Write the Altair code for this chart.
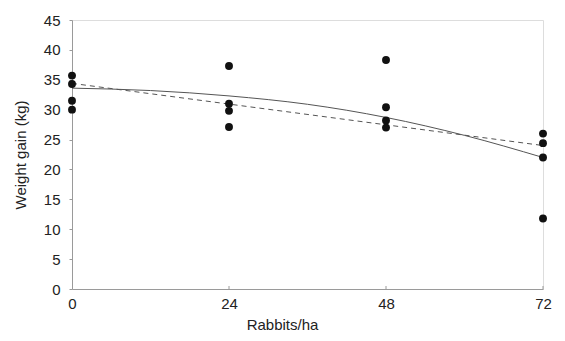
import altair as alt
import pandas as pd

# Observed points
rabbits = [0, 0, 0, 0, 24, 24, 24, 24, 48, 48, 48, 48, 72, 72, 72, 72]
gain = [35.7, 34.3, 31.5, 30.0,
        37.3, 31.0, 29.8, 27.1,
        38.3, 30.4, 28.2, 27.0,
        26.0, 24.4, 22.0, 11.8]

# Solid (curvilinear) fit
curve_x = [0, 12, 24, 36, 48, 60, 72]
curve_y = [33.6, 33.2, 32.3, 30.9, 28.7, 25.7, 22.0]

# Dashed (linear) fit
lin_x = [0, 72]
lin_y = [34.4, 24.0]

x_ticks = [0, 24, 48, 72]
y_ticks = [0, 5, 10, 15, 20, 25, 30, 35, 40, 45]

pts = pd.DataFrame({"x": rabbits, "y": gain})
curve = pd.DataFrame({"x": curve_x, "y": curve_y})
lin = pd.DataFrame({"x": lin_x, "y": lin_y})
ticks = pd.DataFrame({"x": x_ticks[1:]})

FONT = "Liberation Sans"
FS = 15
xscale = alt.Scale(domain=[0, 72], nice=False, zero=False)
yscale = alt.Scale(domain=[0, 45], nice=False)

xaxis = alt.Axis(values=x_ticks, title="Rabbits/ha", grid=False, ticks=False,
                 domainColor="#9a9a9a", labelColor="#222", labelFont=FONT,
                 labelFontSize=FS, labelPadding=7, titleFont=FONT, titleFontSize=FS,
                 titleFontWeight="normal", titleColor="#222", titleX=210, titleY=28,
                 labelFlush=False, labelOverlap=False)
yaxis = alt.Axis(values=y_ticks, title="Weight gain (kg)", grid=False, tickSize=3,
                 tickColor="#9a9a9a", domainColor="#9a9a9a", labelColor="#222",
                 labelFont=FONT, labelFontSize=FS, labelPadding=9, titleFont=FONT,
                 titleFontSize=FS, titleFontWeight="normal", titleColor="#222",
                 titleX=-44, titleY=134.5, labelOverlap=False)

X = lambda: alt.X("x:Q", scale=xscale, axis=xaxis)
Y = lambda: alt.Y("y:Q", scale=yscale, axis=yaxis)

points = alt.Chart(pts).mark_circle(size=62, color="#111", opacity=1).encode(x=X(), y=Y())

solid = alt.Chart(curve).mark_line(color="#555", strokeWidth=1, interpolate="monotone").encode(
    x=X(), y=Y()
)

dashed = alt.Chart(lin).mark_line(color="#555", strokeWidth=1, strokeDash=[5, 4]).encode(
    x=X(), y=Y()
)

xt = alt.Chart(ticks).mark_rule(color="#9a9a9a", strokeWidth=1).encode(
    x=X(), y=alt.value(266), y2=alt.value(269)
)

chart = alt.layer(xt, dashed, solid, points).properties(
    width=471, height=269,
    padding={"left": 72, "top": 20, "right": 22, "bottom": 52},
    autosize=alt.AutoSizeParams(type="none"),
).configure_view(stroke=None).configure(background="white")

chart.save("out.html", embed_options={"renderer": "svg", "actions": False})
